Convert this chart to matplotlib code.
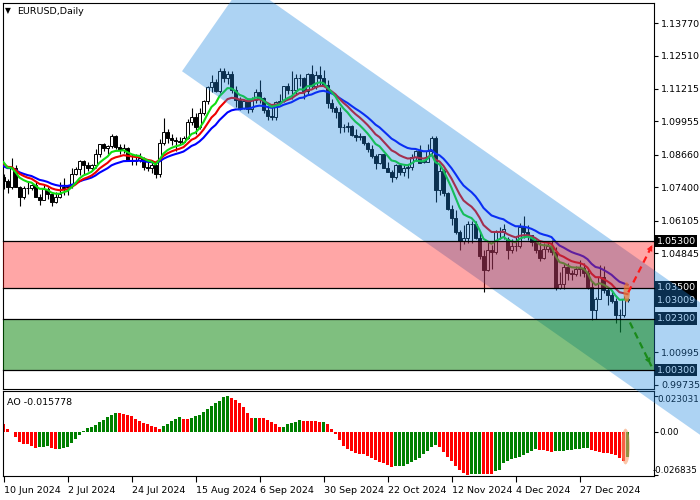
import numpy as np
import matplotlib.pyplot as plt
from matplotlib.patches import Polygon, Rectangle, Ellipse, FancyArrowPatch
from matplotlib.lines import Line2D
from matplotlib.transforms import blended_transform_factory

plt.rcParams['font.family'] = 'DejaVu Sans'
plt.rcParams['font.size'] = 6.8

# EURUSD daily bars, 10 Jun 2024 .. 15 Jan 2025
opens = [1.0778, 1.0765, 1.0741, 1.0813, 1.0739, 1.0703, 1.0735, 1.0737, 1.0747, 1.0703,
         1.0692, 1.0733, 1.0714, 1.0682, 1.0701, 1.0735, 1.0741, 1.0743, 1.0791, 1.0810,
         1.0840, 1.0826, 1.0813, 1.0828, 1.0867, 1.0906, 1.0891, 1.0898, 1.0938, 1.0896,
         1.0883, 1.0892, 1.0847, 1.0842, 1.0846, 1.0855, 1.0817, 1.0815, 1.0825, 1.0790,
         1.0910, 1.0955, 1.0930, 1.0923, 1.0919, 1.0917, 1.0932, 1.0993, 1.1012, 1.0972,
         1.1028, 1.1076, 1.1130, 1.1150, 1.1113, 1.1192, 1.1162, 1.1181, 1.1117, 1.1077,
         1.1048, 1.1073, 1.1044, 1.1078, 1.1111, 1.1085, 1.1040, 1.1017, 1.1012, 1.1072,
         1.1075, 1.1132, 1.1117, 1.1118, 1.1162, 1.1163, 1.1112, 1.1180, 1.1131, 1.1177,
         1.1164, 1.1135, 1.1068, 1.1046, 1.1030, 1.0975, 1.0974, 1.0977, 1.0941, 1.0936,
         1.0937, 1.0911, 1.0890, 1.0860, 1.0833, 1.0867, 1.0816, 1.0797, 1.0781, 1.0828,
         1.0797, 1.0815, 1.0817, 1.0856, 1.0882, 1.0840, 1.0838, 1.0882, 1.0930, 1.0728,
         1.0801, 1.0719, 1.0655, 1.0622, 1.0565, 1.0530, 1.0541, 1.0598, 1.0597, 1.0544,
         1.0473, 1.0418, 1.0496, 1.0488, 1.0567, 1.0565, 1.0537, 1.0497, 1.0510, 1.0512,
         1.0587, 1.0567, 1.0555, 1.0527, 1.0496, 1.0467, 1.0502, 1.0512, 1.0490, 1.0350,
         1.0364, 1.0430, 1.0406, 1.0405, 1.0423, 1.0428, 1.0407, 1.0354, 1.0265, 1.0307,
         1.0390, 1.0342, 1.0320, 1.0300, 1.0244, 1.0245, 1.0308]
highs = [1.0790, 1.0773, 1.0852, 1.0828, 1.0743, 1.0745, 1.0762, 1.0751, 1.0761, 1.0714,
         1.0747, 1.0740, 1.0715, 1.0721, 1.0762, 1.0776, 1.0747, 1.0814, 1.0817, 1.0845,
         1.0844, 1.0838, 1.0829, 1.0890, 1.0908, 1.0911, 1.0904, 1.0948, 1.0944, 1.0907,
         1.0908, 1.0895, 1.0869, 1.0869, 1.0871, 1.0856, 1.0839, 1.0843, 1.0832, 1.0927,
         1.1009, 1.0966, 1.0946, 1.0934, 1.0934, 1.0940, 1.1003, 1.1047, 1.1026, 1.1048,
         1.1080, 1.1133, 1.1174, 1.1158, 1.1201, 1.1202, 1.1190, 1.1190, 1.1132, 1.1089,
         1.1078, 1.1075, 1.1089, 1.1120, 1.1155, 1.1090, 1.1056, 1.1055, 1.1074, 1.1103,
         1.1134, 1.1143, 1.1189, 1.1180, 1.1180, 1.1166, 1.1182, 1.1214, 1.1190, 1.1209,
         1.1196, 1.1157, 1.1083, 1.1055, 1.1050, 1.0986, 1.0993, 1.0980, 1.0966, 1.0951,
         1.0940, 1.0914, 1.0903, 1.0870, 1.0869, 1.0867, 1.0836, 1.0806, 1.0831, 1.0835,
         1.0828, 1.0826, 1.0870, 1.0885, 1.0905, 1.0845, 1.0907, 1.0937, 1.0937, 1.0826,
         1.0810, 1.0720, 1.0669, 1.0653, 1.0572, 1.0594, 1.0610, 1.0610, 1.0608, 1.0570,
         1.0497, 1.0529, 1.0515, 1.0573, 1.0585, 1.0596, 1.0547, 1.0539, 1.0545, 1.0602,
         1.0630, 1.0594, 1.0556, 1.0542, 1.0526, 1.0523, 1.0523, 1.0536, 1.0508, 1.0410,
         1.0443, 1.0446, 1.0418, 1.0434, 1.0457, 1.0444, 1.0423, 1.0377, 1.0313, 1.0437,
         1.0436, 1.0354, 1.0340, 1.0311, 1.0267, 1.0317, 1.0310]
lows = [1.0733, 1.0719, 1.0734, 1.0760, 1.0668, 1.0696, 1.0712, 1.0730, 1.0701, 1.0671,
        1.0690, 1.0694, 1.0666, 1.0680, 1.0699, 1.0710, 1.0710, 1.0738, 1.0787, 1.0787,
        1.0791, 1.0802, 1.0805, 1.0816, 1.0856, 1.0882, 1.0868, 1.0891, 1.0887, 1.0869,
        1.0874, 1.0845, 1.0825, 1.0825, 1.0836, 1.0806, 1.0802, 1.0795, 1.0777, 1.0778,
        1.0904, 1.0912, 1.0903, 1.0880, 1.0905, 1.0915, 1.0928, 1.0981, 1.0947, 1.0967,
        1.1019, 1.1063, 1.1108, 1.1109, 1.1107, 1.1148, 1.1141, 1.1106, 1.1050, 1.1040,
        1.1042, 1.1026, 1.1033, 1.1067, 1.1068, 1.1026, 1.1002, 1.1002, 1.1001, 1.1063,
        1.1070, 1.1100, 1.1082, 1.1102, 1.1134, 1.1083, 1.1102, 1.1122, 1.1122, 1.1137,
        1.1132, 1.1046, 1.1033, 1.1008, 1.0951, 1.0954, 1.0955, 1.0938, 1.0918, 1.0925,
        1.0902, 1.0877, 1.0855, 1.0810, 1.0830, 1.0813, 1.0797, 1.0761, 1.0773, 1.0786,
        1.0784, 1.0774, 1.0805, 1.0840, 1.0834, 1.0832, 1.0836, 1.0868, 1.0682, 1.0711,
        1.0706, 1.0652, 1.0595, 1.0560, 1.0497, 1.0518, 1.0523, 1.0522, 1.0539, 1.0462,
        1.0333, 1.0413, 1.0424, 1.0480, 1.0540, 1.0538, 1.0460, 1.0483, 1.0493, 1.0503,
        1.0543, 1.0535, 1.0510, 1.0484, 1.0452, 1.0460, 1.0490, 1.0478, 1.0342, 1.0343,
        1.0343, 1.0379, 1.0381, 1.0394, 1.0397, 1.0390, 1.0343, 1.0225, 1.0230, 1.0307,
        1.0331, 1.0282, 1.0290, 1.0214, 1.0178, 1.0237, 1.0296]
closes = [1.0765, 1.0741, 1.0813, 1.0739, 1.0703, 1.0735, 1.0737, 1.0747, 1.0703, 1.0692,
          1.0733, 1.0714, 1.0682, 1.0701, 1.0713, 1.0741, 1.0743, 1.0791, 1.0810, 1.0840,
          1.0826, 1.0813, 1.0828, 1.0867, 1.0906, 1.0891, 1.0898, 1.0938, 1.0896, 1.0883,
          1.0892, 1.0847, 1.0842, 1.0846, 1.0855, 1.0817, 1.0815, 1.0825, 1.0790, 1.0910,
          1.0955, 1.0930, 1.0923, 1.0919, 1.0917, 1.0932, 1.0993, 1.1012, 1.0972, 1.1028,
          1.1076, 1.1130, 1.1150, 1.1113, 1.1192, 1.1162, 1.1181, 1.1117, 1.1077, 1.1048,
          1.1073, 1.1044, 1.1078, 1.1111, 1.1085, 1.1040, 1.1017, 1.1012, 1.1072, 1.1075,
          1.1132, 1.1117, 1.1118, 1.1162, 1.1163, 1.1112, 1.1180, 1.1131, 1.1177, 1.1164,
          1.1135, 1.1068, 1.1046, 1.1030, 1.0975, 1.0974, 1.0977, 1.0941, 1.0936, 1.0937,
          1.0911, 1.0890, 1.0860, 1.0833, 1.0867, 1.0816, 1.0797, 1.0781, 1.0828, 1.0797,
          1.0815, 1.0817, 1.0856, 1.0882, 1.0835, 1.0838, 1.0882, 1.0930, 1.0728, 1.0801,
          1.0719, 1.0655, 1.0622, 1.0565, 1.0530, 1.0541, 1.0598, 1.0597, 1.0544, 1.0473,
          1.0418, 1.0496, 1.0488, 1.0567, 1.0565, 1.0577, 1.0497, 1.0510, 1.0512, 1.0587,
          1.0567, 1.0555, 1.0527, 1.0496, 1.0467, 1.0502, 1.0512, 1.0490, 1.0350, 1.0364,
          1.0430, 1.0406, 1.0405, 1.0423, 1.0428, 1.0407, 1.0354, 1.0265, 1.0307, 1.0390,
          1.0342, 1.0320, 1.0300, 1.0244, 1.0245, 1.0308, 1.0301]

# Awesome Oscillator values
ao = [0.0055, 0.0021, 0.0004, -0.0027, -0.0063, -0.0072, -0.0073, -0.0084, -0.0097, -0.0095,
      -0.0093, -0.0089, -0.0099, -0.0108, -0.0103, -0.0097, -0.0091, -0.0070, -0.0040, -0.0017,
      0.0006, 0.0025, 0.0032, 0.0044, 0.0065, 0.0078, 0.0095, 0.0112, 0.0122, 0.0121,
      0.0116, 0.0112, 0.0101, 0.0084, 0.0070, 0.0059, 0.0049, 0.0040, 0.0034, 0.0021,
      0.0040, 0.0055, 0.0070, 0.0084, 0.0095, 0.0084, 0.0083, 0.0093, 0.0101, 0.0112,
      0.0127, 0.0148, 0.0165, 0.0184, 0.0200, 0.0226, 0.0230, 0.0219, 0.0205, 0.0184,
      0.0158, 0.0122, 0.0092, 0.0093, 0.0091, 0.0087, 0.0078, 0.0063, 0.0051, 0.0034,
      0.0036, 0.0049, 0.0059, 0.0065, 0.0078, 0.0072, 0.0071, 0.0070, 0.0069, 0.0063,
      0.0065, 0.0055, 0.0021, -0.0011, -0.0049, -0.0084, -0.0105, -0.0120, -0.0133, -0.0135,
      -0.0139, -0.0150, -0.0160, -0.0173, -0.0186, -0.0196, -0.0209, -0.0217, -0.0216, -0.0215,
      -0.0211, -0.0200, -0.0186, -0.0175, -0.0165, -0.0139, -0.0118, -0.0093, -0.0080, -0.0091,
      -0.0122, -0.0154, -0.0181, -0.0211, -0.0238, -0.0260, -0.0268, -0.0266, -0.0264, -0.0262,
      -0.0263, -0.0264, -0.0265, -0.0245, -0.0238, -0.0196, -0.0179, -0.0167, -0.0164, -0.0154,
      -0.0143, -0.0133, -0.0120, -0.0108, -0.0110, -0.0114, -0.0118, -0.0122, -0.0121, -0.0119,
      -0.0116, -0.0113, -0.0110, -0.0107, -0.0104, -0.0102, -0.0100, -0.0112, -0.0120, -0.0126,
      -0.0130, -0.0134, -0.0138, -0.0143, -0.0165, -0.0181, -0.015778]

date_labels = ['10 Jun 2024', '2 Jul 2024', '24 Jul 2024', '15 Aug 2024', '6 Sep 2024',
               '30 Sep 2024', '22 Oct 2024', '12 Nov 2024', '4 Dec 2024', '27 Dec 2024']
price_ticks = [1.13770, 1.12510, 1.11215, 1.09955, 1.08660, 1.07400, 1.06105, 1.04845, 1.00995, 0.99735]
resist = [1.05300, 1.03500]
support = [1.02300, 1.00300]
last_price = 1.03009
ao_ticks = [0.023031, 0.0, -0.026835]
ao_tick_labels = ['0.023031', '0.00', '-0.026835']

# hand drawn channel corners (bar index, price)
channel = [(60.15, 1.1536), (44.63, 1.1190), (189.1, 0.9616), (204.6, 0.9961)]

o = np.array(opens); h = np.array(highs); l = np.array(lows); c = np.array(closes)
ao = np.array(ao)
n = len(c)
x = np.arange(n)


def ema(values, period, start):
    k = 2.0 / (period + 1)
    out = []
    prev = start
    for v in values:
        prev += k * (v - prev)
        out.append(prev)
    return np.array(out)


ma_fast = ema(c, 8, 1.0858)
ma_mid = ema(c, 13, 1.0843)
ma_slow = ema(c, 21, 1.0827)

fig = plt.figure(figsize=(7, 5), dpi=100)
ax = fig.add_axes([3/700, 111/500, 651/700, 386/500])
ax2 = fig.add_axes([3/700, 24/500, 651/700, 85/500])
xlim = (-0.125, 162.625)

# candles
up = c >= o
ax.vlines(x, l, h, color='black', lw=0.8, zorder=1)
ax.bar(x, np.maximum(np.abs(c - o), 0.00012), 0.55, bottom=np.minimum(o, c),
       color=np.where(up, 'white', 'black'), edgecolor='black', lw=0.7, zorder=2)
ax.plot(x, ma_slow, color='#0000ff', lw=1.5, zorder=3)
ax.plot(x, ma_mid, color='#ee0000', lw=1.5, zorder=3)
ax.plot(x, ma_fast, color='#11dd11', lw=1.5, zorder=3)

ax.set_xlim(xlim)
ax.set_ylim(0.99568, 1.14548)
ax.set_xticks([])
ax.yaxis.tick_right()
ax.set_yticks(price_ticks)
ax.set_yticklabels([f'{p:.5f}' for p in price_ticks])
ax.tick_params(axis='y', length=3, width=0.8, pad=2, labelsize=6.8)
for s in ax.spines.values():
    s.set_linewidth(0.8)

bt = blended_transform_factory(ax.transAxes, ax.transData)
for lv in resist + support + [last_price]:
    ax.text(1.004, lv, f'{lv:.5f}', transform=bt, color='white', fontsize=6.8,
            va='center', ha='left', bbox=dict(fc='black', ec='none', pad=1.2))

fig.text(17/700, 1 - 11/500, 'EURUSD,Daily', fontsize=6.8, va='center')
fig.text(5/700, 1 - 11/500, '\u25bc', fontsize=5.5, va='center')

# AO histogram
col = ['#ff0000'] + ['#008000' if ao[i] > ao[i - 1] else '#ff0000' for i in range(1, n)]
ax2.bar(x, ao, 0.7, color=col, lw=0)
ax2.set_xlim(xlim)
ax2.set_ylim(-0.0277, 0.0261)
ax2.yaxis.tick_right()
ax2.set_yticks(ao_ticks)
ax2.set_yticklabels([])
ax2.set_xticks(np.arange(0, n, 16))
ax2.set_xticklabels(date_labels, ha='left')
ax2.tick_params(axis='y', length=3, width=0.8)
ax2.tick_params(axis='x', length=4, width=0.8, pad=3, labelsize=6.8)
for s in ax2.spines.values():
    s.set_linewidth(0.8)
bt2 = blended_transform_factory(ax2.transAxes, ax2.transData)
ax2.text(1.0046, 0.90, ao_tick_labels[0], transform=ax2.transAxes, fontsize=6.3, va='center')
ax2.text(1.0077, ao_ticks[1], ao_tick_labels[1], transform=bt2, fontsize=6.3, va='center')
ax2.text(0.9985, 0.07, ao_tick_labels[2], transform=ax2.transAxes, fontsize=6.3, va='center')
ax2.text(0.006, 0.86, f'AO {ao[-1]:.6f}', transform=ax2.transAxes, fontsize=6.8, va='center')

# overlay objects: channel, then zones on top of it
fig.add_artist(Polygon(channel, closed=True, transform=ax.transData,
                       fc='#1e85de', alpha=0.36, lw=0, zorder=2))
fig.add_artist(Rectangle((0, resist[1]), 1, resist[0] - resist[1], transform=bt,
                         fc='#ff0000', alpha=0.35, lw=0, zorder=3))
fig.add_artist(Rectangle((0, support[1]), 1, support[0] - support[1], transform=bt,
                         fc='#008000', alpha=0.5, lw=0, zorder=3))
for lv in resist + support:
    fig.add_artist(Line2D([0, 1], [lv, lv], transform=bt, color='black', lw=0.9, zorder=3.2))

# forecast arrows
for (x0, y0), (x1, y1), colr in [((n - 0.8, 1.0332), (162.5, 1.0525), '#ff1a1a'),
                                 ((n - 0.4, 1.0215), (162.0, 1.0045), '#1a8a1a')]:
    fig.add_artist(Line2D([x0, x1], [y0, y1], transform=ax.transData, color=colr,
                          lw=1.6, ls=(0, (3, 2)), zorder=6))
    fig.add_artist(FancyArrowPatch((x0 + 0.8 * (x1 - x0), y0 + 0.8 * (y1 - y0)), (x1, y1),
                                   arrowstyle='-|>', mutation_scale=11, color=colr, lw=0,
                                   transform=ax.transData, zorder=6))

fig.add_artist(Ellipse((n - 1.2, (ma_fast[-1] + ma_slow[-1]) / 2), 1.6,
                       ma_slow[-1] - ma_fast[-1] + 0.002, transform=ax.transData,
                       fc='#f07830', alpha=0.7, lw=0, zorder=5))
fig.add_artist(Ellipse((n - 1.5, ao[-2] / 2), 2.2, abs(ao[-2]) * 1.25, transform=ax2.transData,
                       fc='#f8a070', alpha=0.6, lw=0, zorder=5))

fig.savefig('out.png', dpi=100)
